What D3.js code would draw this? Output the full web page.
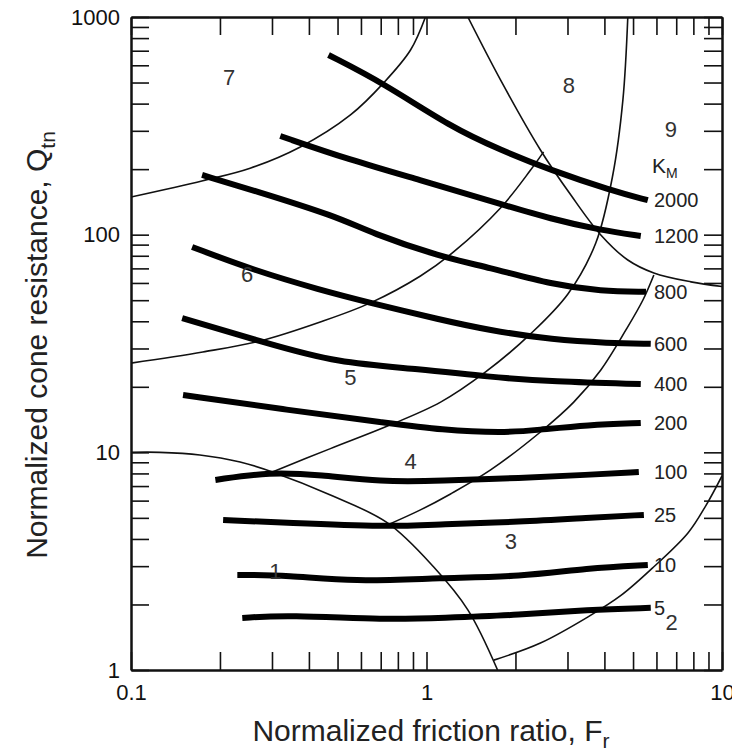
<!DOCTYPE html>
<html>
<head>
<meta charset="utf-8">
<script src="https://cdn.jsdelivr.net/npm/d3@7"></script>
<style>
  body { margin: 0; background: #fff; }
  svg { display: block; font-family: "Liberation Sans", Arial, sans-serif; }
  .frame .domain { stroke: #111; stroke-width: 2.5; }
  .frame .tick line { stroke: #111; stroke-width: 1.6; }
  .frame .tick text { font-size: 22px; fill: #111; }
  .boundary { fill: none; stroke: #111; stroke-width: 1.6; }
  .km-line { fill: none; stroke: #000; stroke-width: 6; }
  .zone-label { font-size: 22px; fill: #333; }
  .km-label { font-size: 20px; fill: #222; }
  .axis-title { font-size: 30px; fill: #222; }
</style>
</head>
<body>
<script>

// K_M contours, [Fr, Qtn]
var km2000 = [[0.466, 669], [0.715, 497], [1.21, 312], [1.78, 245], [2.63, 198], [4.20, 160], [5.61, 144]];
var km1200 = [[0.320, 284], [0.553, 220], [0.954, 178], [1.61, 144], [2.70, 117], [3.89, 105], [5.31, 98.6]];
var km800 = [[0.174, 188], [0.259, 160], [0.499, 121], [0.646, 102], [1.12, 79], [1.61, 71], [2.70, 58.7], [3.89, 55.1], [5.53, 54.6]];
var km600 = [[0.161, 87.8], [0.259, 68.8], [0.437, 55.7], [0.646, 48.6], [1.12, 40.6], [1.61, 36.5], [2.70, 32.8], [4.11, 31.8], [5.74, 31.5]];
var km400 = [[0.149, 41.4], [0.280, 32.1], [0.499, 25.7], [0.954, 24.2], [1.61, 22.2], [2.70, 21.1], [5.31, 20.6]];
var km200 = [[0.150, 18.35], [0.338, 15.66], [0.738, 13.65], [1.12, 12.67], [1.82, 12.28], [2.38, 12.67], [3.51, 13.36], [5.31, 13.65]];
var km100 = [[0.193, 7.47], [0.296, 8.13], [0.437, 7.88], [0.698, 7.31], [1.12, 7.39], [2.08, 7.63], [3.51, 7.88], [5.23, 8.13]];
var km25 = [[0.205, 4.89], [0.338, 4.74], [0.738, 4.54], [1.12, 4.68], [2.08, 4.79], [3.51, 5.00], [5.44, 5.16]];
var km10 = [[0.229, 2.73], [0.338, 2.73], [0.566, 2.54], [1.12, 2.65], [2.08, 2.68], [3.51, 2.94], [5.61, 3.04]];
var km5 = [[0.238, 1.735], [0.338, 1.79], [0.738, 1.70], [1.12, 1.735], [2.08, 1.79], [3.51, 1.89], [5.74, 1.93]];

var kmNames = ['2000', '1200', '800', '600', '400', '200', '100', '25', '10', '5'];
var kmLines = [km2000, km1200, km800, km600, km400, km200, km100, km25, km10, km5];

// soil behaviour type zone boundaries
var bound76 = [[0.1, 149], [0.175, 177], [0.253, 202], [0.374, 253], [0.553, 355], [0.715, 497], [0.883, 705], [0.992, 1000]];
var bound65 = [[0.1, 25.7], [0.175, 28.9], [0.274, 32.5], [0.437, 39.7], [0.646, 48.6], [0.954, 64.6], [1.235, 83.3], [1.78, 132.6], [2.25, 198], [2.49, 240]];
var bound54 = [[0.301, 8.13], [0.473, 10.4], [0.738, 13.2], [1.116, 17.0], [1.585, 23.4], [2.25, 35.0], [3.01, 53.4], [3.74, 91.6], [4.27, 188], [4.62, 416], [4.80, 1000]];
var bound43 = [[0.738, 4.64], [0.954, 5.44], [1.206, 6.44], [1.648, 8.30], [2.43, 12.4], [3.15, 17.0], [3.89, 23.9], [4.73, 36.5], [5.40, 50.1], [5.88, 65.3]];
var bound89 = [[1.38, 1000], [1.78, 514], [2.43, 245], [3.08, 152], [3.89, 99.7], [4.80, 76.5], [5.88, 66.7], [7.85, 60.7], [10, 57.8]];
var bound1 = [[0.1, 10], [0.125, 10], [0.171, 9.73], [0.234, 9.03], [0.301, 8.13], [0.473, 6.37], [0.738, 4.74], [1.056, 2.98], [1.38, 1.89], [1.74, 1]];
var bound2 = [[1.69, 1.11], [2.43, 1.33], [3.51, 1.75], [4.55, 2.20], [5.88, 2.98], [7.67, 4.26], [8.83, 5.71], [10, 7.79]];

var boundaries = [bound76, bound65, bound54, bound43, bound89, bound1, bound2];

var zoneNames = ['7', '8', '9', '6', '5', '4', '3', '1', '2'];
var zoneAt = [[0.215, 530], [3.03, 487], [6.72, 303], [0.247, 65.3], [0.553, 22.0], [0.883, 9.03], [1.93, 3.88], [0.308, 2.82], [6.75, 1.66]];

var xTickLabels = [0.1, 1, 10];
var yTickLabels = [1, 10, 100, 1000];

var width = 744, height = 751;
var plot = { left: 131, right: 722, top: 17, bottom: 670 };

var xScale = d3.scaleLog().domain([0.1, 10]).range([plot.left, plot.right]);
var yScale = d3.scaleLog().domain([1, 1000]).range([plot.bottom, plot.top]);

var svg = d3.select('body').append('svg')
    .attr('width', 732)
    .attr('height', height);

var logTicks = function (lo, hi) {
    var t = [];
    for (var p = lo; p < hi; p *= 10) {
        for (var n = 1; n < 10; n++) {
            t.push(+(n * p).toPrecision(3));
        }
    }
    t.push(hi);
    return t;
};

var xTicks = logTicks(0.1, 10),
    yTicks = logTicks(1, 1000);

var labelIf = function (list) {
    return function (d) {
        return list.indexOf(d) >= 0 ? String(d) : '';
    };
};

svg.append('defs').append('clipPath').attr('id', 'plot-clip')
    .append('rect')
    .attr('x', plot.left)
    .attr('y', plot.top)
    .attr('width', plot.right - plot.left)
    .attr('height', plot.bottom - plot.top);

var px = function (d) { return xScale(d[0]); },
    py = function (d) { return yScale(d[1]); };

var boundaryLine = d3.line().x(px).y(py).curve(d3.curveCatmullRom.alpha(0.5));
var kmLine = d3.line().x(px).y(py).curve(d3.curveBasis);

var inner = svg.append('g').attr('clip-path', 'url(#plot-clip)');

inner.selectAll('.boundary')
    .data(boundaries)
    .enter().append('path')
    .classed('boundary', true)
    .attr('d', boundaryLine);

inner.selectAll('.km-line')
    .data(kmLines)
    .enter().append('path')
    .classed('km-line', true)
    .attr('d', kmLine);

// frame and inward ticks
svg.append('g').classed('frame', true)
    .attr('transform', 'translate(0,' + plot.bottom + ')')
    .call(d3.axisBottom(xScale).tickValues(xTicks).tickSize(-18).tickSizeOuter(0)
        .tickPadding(14).tickFormat(labelIf(xTickLabels)));

svg.append('g').classed('frame', true)
    .attr('transform', 'translate(' + plot.left + ',0)')
    .call(d3.axisLeft(yScale).tickValues(yTicks).tickSize(-18).tickSizeOuter(0)
        .tickPadding(11).tickFormat(labelIf(yTickLabels)));

svg.append('g').classed('frame', true)
    .attr('transform', 'translate(0,' + plot.top + ')')
    .call(d3.axisTop(xScale).tickValues(xTicks).tickSize(-18).tickSizeOuter(0).tickFormat(''));

svg.append('g').classed('frame', true)
    .attr('transform', 'translate(' + plot.right + ',0)')
    .call(d3.axisRight(yScale).tickValues(yTicks).tickSize(-18).tickSizeOuter(0).tickFormat(''));

svg.selectAll('.frame').attr('font-family', null).attr('font-size', null);

// zone numbers
svg.selectAll('.zone-label')
    .data(zoneNames)
    .enter().append('text')
    .classed('zone-label', true)
    .attr('x', function (d, i) { return xScale(zoneAt[i][0]); })
    .attr('y', function (d, i) { return yScale(zoneAt[i][1]); })
    .attr('text-anchor', 'middle')
    .attr('dominant-baseline', 'central')
    .text(function (d) { return d; });

// K_M values at line ends
var labelX = 654;

svg.selectAll('.km-label')
    .data(kmNames)
    .enter().append('text')
    .classed('km-label', true)
    .attr('x', labelX)
    .attr('y', function (d, i) {
        var pts = kmLines[i];
        return yScale(pts[pts.length - 1][1]);
    })
    .attr('dominant-baseline', 'central')
    .text(function (d) { return d; });

var kmTitle = svg.append('text')
    .classed('km-label', true)
    .attr('x', labelX - 2)
    .attr('y', 173)
    .style('font-size', '21px');
kmTitle.append('tspan').text('K');
kmTitle.append('tspan').attr('dy', 5).style('font-size', '14px').text('M');

// axis titles
var xTitle = svg.append('text')
    .classed('axis-title', true)
    .attr('x', 431)
    .attr('y', 741)
    .attr('text-anchor', 'middle');
xTitle.append('tspan').text('Normalized friction ratio, F');
xTitle.append('tspan').attr('dy', 7).style('font-size', '21px').text('r');

var yTitle = svg.append('text')
    .classed('axis-title', true)
    .attr('transform', 'translate(47,345) rotate(-90)')
    .attr('text-anchor', 'middle');
yTitle.append('tspan').text('Normalized cone resistance, Q');
yTitle.append('tspan').attr('dy', 8).style('font-size', '21px').text('tn');

</script>
</body>
</html>
